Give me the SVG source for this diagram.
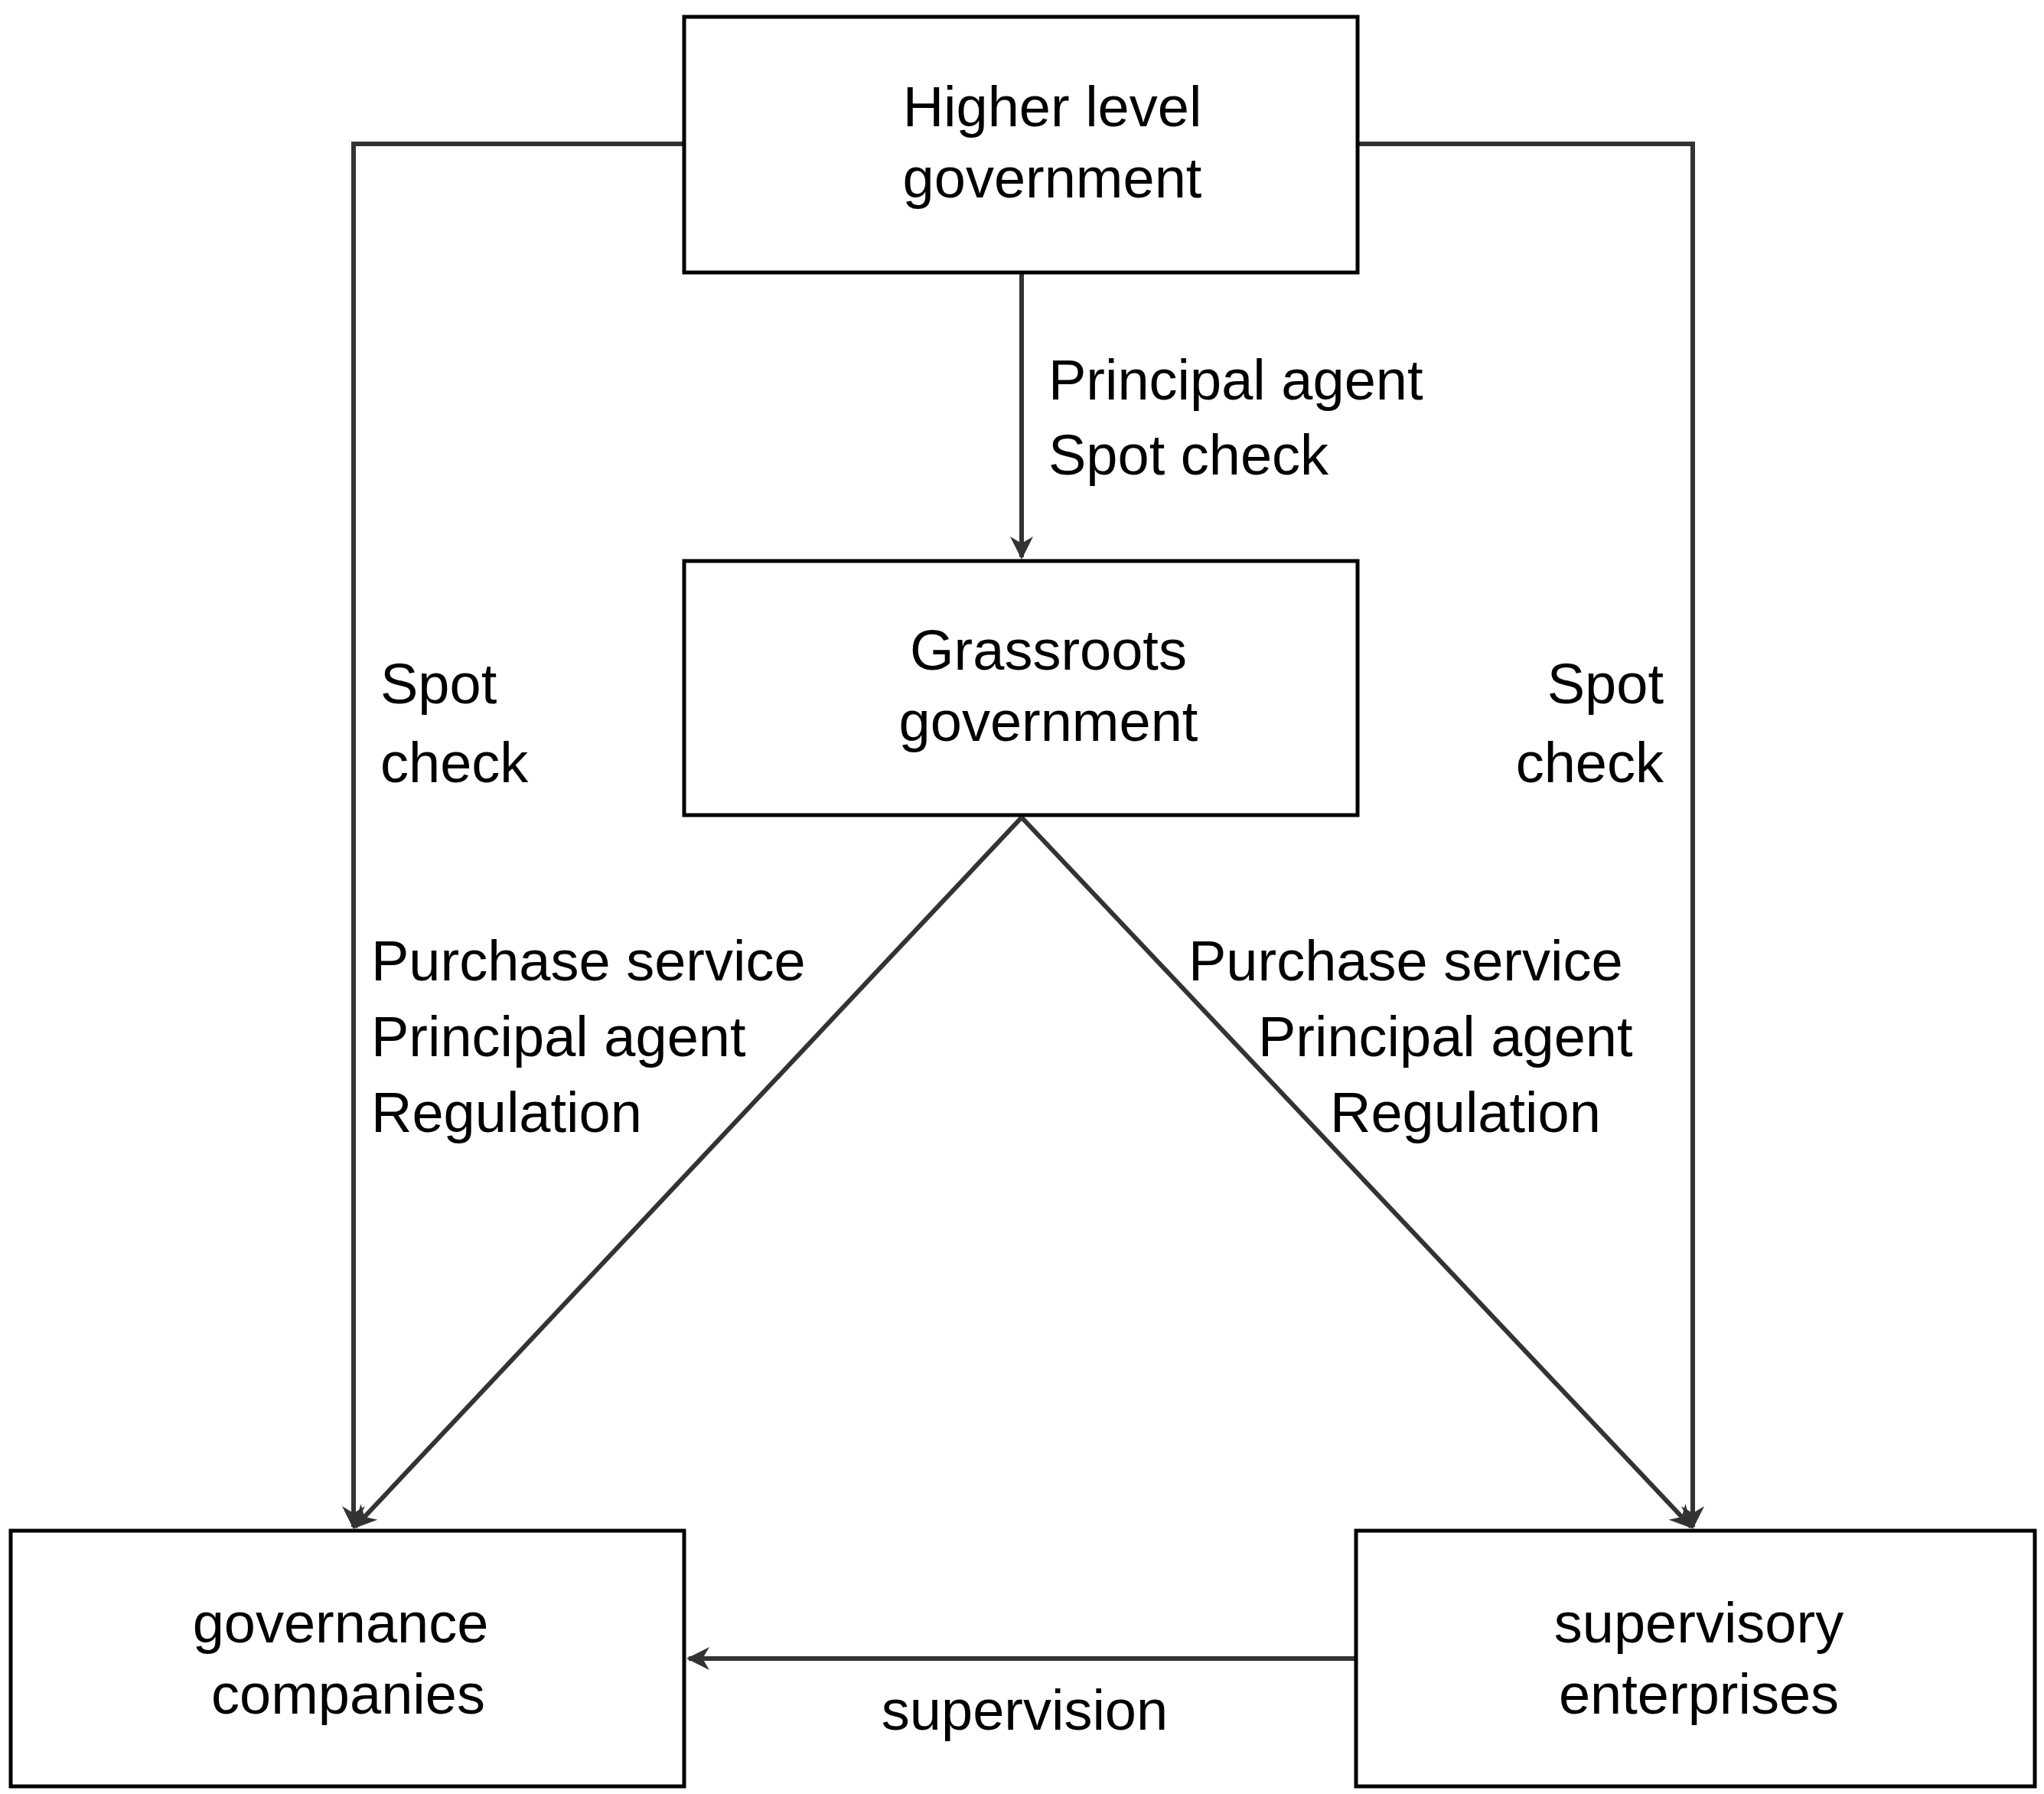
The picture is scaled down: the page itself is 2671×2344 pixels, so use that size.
<svg xmlns="http://www.w3.org/2000/svg" width="2671" height="2344" viewBox="0 0 2671 2344">
<style>
.box{fill:#fff;stroke:#000;stroke-width:5}
.c{fill:none;stroke:#333;stroke-width:6}
text{font-family:"Liberation Sans",Arial,sans-serif;font-size:74px;fill:#000}
.m{text-anchor:middle}.e{text-anchor:end}
</style>
<defs><marker id="a" viewBox="0 0 10 10" refX="9" refY="5" markerWidth="5" markerHeight="5" orient="auto"><path d="M0,0 L10,5 L0,10 L3,5 Z" fill="#333"/></marker></defs>
<rect width="2671" height="2344" fill="#fff"/>
<g id="connectors">
<polyline class="c" points="894,188 462,188 462,1995" marker-end="url(#a)"/>
<polyline class="c" points="1774,188 2212,188 2212,1995" marker-end="url(#a)"/>
<line class="c" x1="1335" y1="356" x2="1335" y2="728" marker-end="url(#a)"/>
<line class="c" x1="1335" y1="1068" x2="464" y2="1995" marker-end="url(#a)"/>
<line class="c" x1="1335" y1="1068" x2="2210" y2="1995" marker-end="url(#a)"/>
<line class="c" x1="1772" y1="2167" x2="900" y2="2167" marker-end="url(#a)"/>
<text x="1370" y="522">Principal agent</text><text x="1370" y="620">Spot check</text>
<text x="497" y="919">Spot</text><text x="497" y="1022">check</text>
<text class="e" x="2174" y="919">Spot</text><text class="e" x="2174" y="1022">check</text>
<text x="485" y="1281">Purchase service</text><text x="485" y="1380">Principal agent</text><text x="485" y="1479">Regulation</text>
<text x="1553" y="1281">Purchase service</text><text x="1644" y="1380">Principal agent</text><text x="1738" y="1479">Regulation</text>
<text class="m" x="1339" y="2260">supervision</text>
</g>
<g id="higher"><rect class="box" x="894" y="22" width="880" height="334"/><text class="m" x="1375" y="165">Higher level</text><text class="m" x="1375" y="258">government</text></g>
<g id="grassroots"><rect class="box" x="894" y="733" width="880" height="332"/><text class="m" x="1370" y="875">Grassroots</text><text class="m" x="1370" y="968">government</text></g>
<g id="governance"><rect class="box" x="14" y="2000" width="880" height="334"/><text class="m" x="445" y="2146">governance</text><text class="m" x="455" y="2239">companies</text></g>
<g id="supervisory"><rect class="box" x="1772" y="2000" width="887" height="334"/><text class="m" x="2220" y="2146">supervisory</text><text class="m" x="2220" y="2239">enterprises</text></g>
</svg>
